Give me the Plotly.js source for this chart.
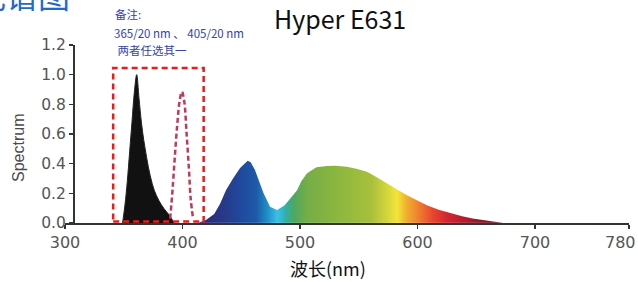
<!DOCTYPE html>
<html>
<head>
<meta charset="utf-8">
<script src="https://cdn.plot.ly/plotly-3.0.1.min.js"></script>
<style>html,body{margin:0;padding:0;background:#fff;}#chart{width:638px;height:282px;}</style>
</head>
<body>
<div id="chart"></div>
<script>
// ---- data ----
const wlBlack = [349, 351, 353, 355, 357, 359, 361, 363, 365, 367, 369.5, 372.5, 376, 380, 384, 388, 393];
const yBlack  = [0, 0.12, 0.28, 0.48, 0.68, 0.88, 1.0, 0.84, 0.68, 0.56, 0.44, 0.32, 0.22, 0.15, 0.1, 0.06, 0];

const wl405 = [389.5, 391.5, 393.5, 395.5, 397.5, 399.5, 401.5, 403.5, 405.5, 407, 409];
const y405  = [0.03, 0.22, 0.45, 0.66, 0.82, 0.885, 0.82, 0.6, 0.36, 0.16, 0.03];

const wlSpec = [413, 420, 427, 432, 437, 443, 449, 455.5, 458, 461.5, 465, 469, 474.5, 480.5, 487, 492.5, 497.5, 501, 506, 514, 523, 530, 540, 548, 557, 565, 574, 582, 591, 600, 608, 618, 628, 638, 647, 660, 673];
const ySpec  = [0, 0.02, 0.06, 0.13, 0.22, 0.3, 0.37, 0.42, 0.41, 0.36, 0.29, 0.2, 0.11, 0.088, 0.12, 0.176, 0.22, 0.28, 0.335, 0.376, 0.385, 0.386, 0.38, 0.365, 0.345, 0.31, 0.27, 0.23, 0.187, 0.15, 0.12, 0.09, 0.065, 0.045, 0.03, 0.015, 0];

const colorNm  = [413, 435, 450, 462, 472, 480, 488, 495, 505, 530, 560, 575, 582, 590, 600, 612, 625, 640, 655, 673];
const colorHex = ['#2b2a6e', '#283a8a', '#1f4a9e', '#1e5aa8', '#1e90c8', '#3cc0e8', '#30b0a0', '#50a860', '#74ad48', '#8ab640', '#a8c03c', '#d8d83a', '#f4e43a', '#f0b030', '#f08030', '#e84830', '#d02830', '#b01e30', '#8a1a2a', '#6a1a28'];

const boxNm = [341, 418];
const boxY  = [0.01, 1.045];

const xTicks = [300, 400, 500, 600, 700, 780];
const yTicks = [0, 0.2, 0.4, 0.6, 0.8, 1.0, 1.2];
const yTickText = ['0.0', '0.2', '0.4', '0.6', '0.8', '1.0', '1.2'];

const titleText = 'Hyper E631';
const noteLines = ['备注:', '365/20 nm 、 405/20 nm', ' 两者任选其一'];
const xTitle = '波长(nm)';
const yTitle = 'Spectrum';
const headText = '光谱图';

// ---- layout helpers ----
const W = 638, H = 282;
const M = {l: 65, r: 9, t: 45, b: 59};
const PW = W - M.l - M.r, PH = H - M.t - M.b;
const px = v => (v - M.l) / PW;
const py = v => (H - M.b - v) / PH;

const nmMin = colorNm[0], nmMax = colorNm[colorNm.length - 1];
const colorscale = colorNm.map((n, i) => [(n - nmMin) / (nmMax - nmMin), colorHex[i]]);

const traces = [
  { type: 'heatmap', x: colorNm, y: [0, 0.45], z: [colorNm, colorNm],
    zmin: nmMin, zmax: nmMax, colorscale: colorscale, zsmooth: 'best',
    showscale: false, hoverinfo: 'skip' },
  { type: 'scatter', mode: 'lines',
    x: [398].concat(wlSpec, [692, 692, 398]),
    y: [0].concat(ySpec, [0, 0.9, 0.9]),
    fill: 'toself', fillcolor: '#ffffff', line: {width: 0, color: '#ffffff'},
    hoverinfo: 'skip', showlegend: false },
  { type: 'scatter', mode: 'lines', x: wlBlack, y: yBlack,
    fill: 'tozeroy', fillcolor: '#111111', line: {color: '#222222', width: 1, shape: 'spline'},
    showlegend: false },
  { type: 'scatter', mode: 'lines', x: wl405, y: y405,
    line: {color: '#bb3c58', width: 2.5, dash: '5px,3px', shape: 'spline'},
    showlegend: false }
];

const blue = '#3544a6';
const annFont = 'Noto Sans CJK SC, sans-serif';
const tickFont = {family: 'DejaVu Sans, sans-serif', size: 16, color: '#555'};
const annotations = [
  {text: titleText, x: px(340), y: py(18), xanchor: 'center', yanchor: 'middle',
   font: {family: annFont, size: 25, color: '#111'}},
  {text: noteLines[0], x: px(113), y: py(14), xanchor: 'left', yanchor: 'middle',
   font: {family: annFont, size: 11.5, color: blue}},
  {text: noteLines[1], x: px(112), y: py(33), xanchor: 'left', yanchor: 'middle',
   font: {family: annFont, size: 11.5, color: blue}},
  {text: noteLines[2], x: px(113), y: py(50), xanchor: 'left', yanchor: 'middle',
   font: {family: annFont, size: 11.5, color: blue}},
  {text: headText, x: px(72), y: py(-6), xanchor: 'right', yanchor: 'middle',
   font: {family: annFont, size: 32, color: '#2468c8'}},
  {text: yTitle, x: px(18), y: py(148), xanchor: 'center', yanchor: 'middle', textangle: -90,
   font: {family: 'Liberation Sans, Arial, sans-serif', size: 16, color: '#4a4a4a'}},
  {text: xTitle, x: px(328), y: py(268), xanchor: 'center', yanchor: 'middle',
   font: {family: annFont, size: 18, color: '#111'}},
  // last x tick label, nudged inside the page edge
  {text: String(xTicks[xTicks.length - 1]), xref: 'x', x: xTicks[xTicks.length - 1], xshift: -9,
   y: py(242), xanchor: 'center', yanchor: 'middle', font: tickFont}
].map(a => Object.assign({xref: 'paper', yref: 'paper', showarrow: false}, a));

const layout = {
  width: W, height: H, margin: M,
  paper_bgcolor: '#ffffff', plot_bgcolor: '#ffffff',
  showlegend: false,
  xaxis: {range: [300, 780], tickvals: xTicks,
          ticktext: xTicks.map((v, i) => i === xTicks.length - 1 ? '' : String(v)),
          showgrid: false, zeroline: false, showline: true, linecolor: '#333', linewidth: 1.5,
          ticks: 'outside', ticklen: 4, tickwidth: 1.5, tickcolor: '#333',
          tickfont: tickFont, fixedrange: true},
  yaxis: {range: [0, 1.2], tickvals: yTicks, ticktext: yTickText,
          anchor: 'free', position: px(73),
          showgrid: false, zeroline: false, showline: true, linecolor: '#333', linewidth: 1.5,
          ticks: 'outside', ticklen: 4, tickwidth: 1.5, tickcolor: '#333',
          tickfont: {family: 'DejaVu Sans, sans-serif', size: 15.5, color: '#555'}, fixedrange: true},
  shapes: [
    {type: 'rect', xref: 'x', yref: 'y', x0: boxNm[0], x1: boxNm[1], y0: boxY[0], y1: boxY[1],
     line: {color: '#ee1a1a', width: 2.5, dash: '6px,4px'}, fillcolor: 'rgba(0,0,0,0)', layer: 'above'}
  ],
  annotations: annotations
};

Plotly.newPlot('chart', traces, layout, {displayModeBar: false, staticPlot: true});
</script>
</body>
</html>
